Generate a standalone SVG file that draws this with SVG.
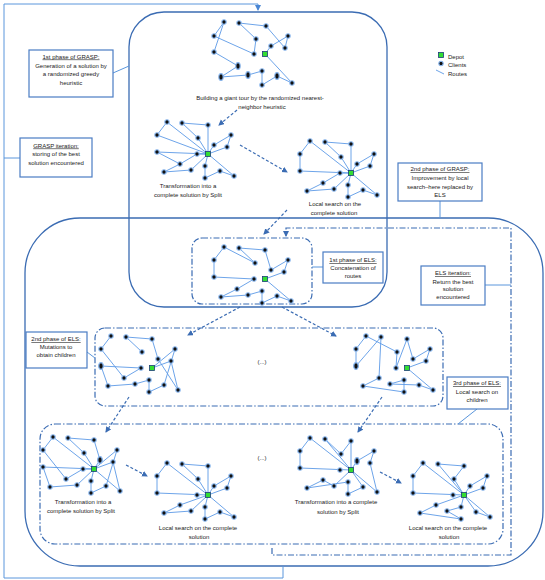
<svg xmlns="http://www.w3.org/2000/svg" xmlns:xlink="http://www.w3.org/1999/xlink" width="545" height="580" viewBox="0 0 545 580">
<style>
text{font-family:"Liberation Sans",Arial,sans-serif;font-size:6px;fill:#222;text-anchor:middle}
.u{text-decoration:underline}
.lg{text-anchor:start}
.big{fill:none;stroke:#3b6cb3;stroke-width:1.3}
.dd{fill:none;stroke:#3b6cb3;stroke-width:1.2;stroke-dasharray:6,2,1.5,2}
.tb{fill:#fff;stroke:#4a7cc4;stroke-width:1.2}
.cn{fill:none;stroke:#5a96dc;stroke-width:1}
.da{fill:none;stroke:#3b6cb3;stroke-width:1.2;stroke-dasharray:3,2}
.e{fill:none;stroke:#5c9ae6;stroke-width:0.9;stroke-linejoin:round}
.cl{fill:#111;stroke:#8ab8f0;stroke-width:1.1}
.dp{fill:#33dd33;stroke:#1c3c78;stroke-width:0.8}
</style>
<defs>
<marker id="ah" markerWidth="7" markerHeight="7" refX="5" refY="3" orient="auto" markerUnits="userSpaceOnUse"><path d="M0,0 L6,3 L0,6 Z" fill="#3b6cb3"/></marker>
<marker id="ah2" markerWidth="7" markerHeight="7" refX="5" refY="3" orient="auto" markerUnits="userSpaceOnUse"><path d="M0,0 L6,3 L0,6 Z" fill="#4a86d4"/></marker>
<g id="layout">
<circle class="cl" cx="-41" cy="-32" r="2.2"/><circle class="cl" cx="-26" cy="-31" r="2.2"/><circle class="cl" cx="0" cy="-29" r="2.2"/>
<circle class="cl" cx="-51" cy="-19" r="2.2"/><circle class="cl" cx="-10" cy="-16" r="2.2"/><circle class="cl" cx="23" cy="-19" r="2.2"/>
<circle class="cl" cx="6" cy="-9" r="2.2"/><circle class="cl" cx="19" cy="-7" r="2.2"/><circle class="cl" cx="-51" cy="-2" r="2.2"/>
<circle class="cl" cx="-11" cy="0" r="2.2"/><circle class="cl" cx="-28" cy="10" r="2.2"/><circle class="cl" cx="-3" cy="12" r="2.2"/>
<circle class="cl" cx="-44" cy="18" r="2.2"/><circle class="cl" cx="-17" cy="16" r="2.2"/><circle class="cl" cx="12" cy="17" r="2.2"/>
<circle class="cl" cx="-3" cy="24" r="2.2"/><circle class="cl" cx="26" cy="22" r="2.2"/>
<rect class="dp" x="-2.5" y="-2.5" width="5" height="5"/>
</g>
</defs>
<rect width="545" height="580" fill="#fff"/>

<g id="grasp-box"><rect class="big" x="129" y="12" width="258" height="295" rx="35"/></g>
<g id="els-box"><rect class="big" x="25" y="218" width="518" height="348" rx="55"/></g>
<g id="els-phase1-box"><rect class="dd" x="192" y="238" width="120" height="66" rx="10"/></g>
<g id="els-phase2-box"><rect class="dd" x="95" y="328" width="348" height="78" rx="10"/><text x="262" y="364">(...)</text></g>
<g id="els-phase3-box"><rect class="dd" x="40" y="424" width="463" height="120" rx="15"/><text x="262" y="460">(...)</text></g>

<g id="connectors">
<path class="cn" d="M283,566 V578 H4 V4 H258 V10" marker-end="url(#ah2)"/>
<path class="cn" d="M4,158 H20"/>
<path class="cn" d="M113,73 L129,66"/>
<path class="cn" d="M440,201 V218"/>
<path class="cn" d="M312,267 H323"/>
<path class="cn" d="M485,285 H511"/>
<path class="cn" d="M87,352 L95,358"/>
<path class="cn" d="M477,409 L458,424"/>
<path class="dd" d="M272,548 V555 H511 V228 H286 V236" marker-end="url(#ah)"/>
<path class="da" d="M237,110 L219,125" marker-end="url(#ah)"/>
<path class="da" d="M240,145 L287,172" marker-end="url(#ah)"/>
<path class="da" d="M287,210 L264,234" marker-end="url(#ah)"/>
<path class="da" d="M240,307 L188,335" marker-end="url(#ah)"/>
<path class="da" d="M282,307 L336,336" marker-end="url(#ah)"/>
<path class="da" d="M129,397 L106,432" marker-end="url(#ah)"/>
<path class="da" d="M382,397 L358,432" marker-end="url(#ah)"/>
<path class="da" d="M126,465 L147,476" marker-end="url(#ah)"/>
<path class="da" d="M380,472 L401,483" marker-end="url(#ah)"/>
</g>

<g id="g1-giant-tour" transform="translate(265,54)">
<path class="e" d="M0 0 L6 -8 L23 -18 L20 -6 L1 -28 L-26 -31 L-9 -15 L-11 0 L-51 -18 L-41 -32 L-51 -2 L-27 12 L-44 23 L-17 21 L-3 17 L-3 31 L12 22 L27 29 Z"/>
<circle class="cl" cx="-41" cy="-32" r="2.2"/><circle class="cl" cx="-26" cy="-31" r="2.2"/><circle class="cl" cx="1" cy="-28" r="2.2"/>
<circle class="cl" cx="-51" cy="-18" r="2.2"/><circle class="cl" cx="-9" cy="-15" r="2.2"/><circle class="cl" cx="23" cy="-18" r="2.2"/>
<circle class="cl" cx="6" cy="-8" r="2.2"/><circle class="cl" cx="20" cy="-6" r="2.2"/><circle class="cl" cx="-51" cy="-2" r="2.2"/>
<circle class="cl" cx="-11" cy="0" r="2.2"/><ellipse class="cl" cx="-27" cy="12" rx="2.2" ry="3.4"/><circle class="cl" cx="-3" cy="17" r="2.2"/>
<ellipse class="cl" cx="-44" cy="23" rx="2.2" ry="3.4"/><ellipse class="cl" cx="-17" cy="21" rx="2.2" ry="3.4"/><ellipse class="cl" cx="12" cy="22" rx="2.2" ry="3.4"/>
<circle class="cl" cx="-3" cy="31" r="2.2"/><circle class="cl" cx="27" cy="29" r="2.2"/>
<rect class="dp" x="-2.5" y="-2.5" width="5" height="5"/>
</g>
<g id="g1-caption"><text x="260" y="100">Building a giant tour by the randomized nearest-</text><text x="262" y="108.5">neighbor heuristic</text></g>

<g id="g2-split" transform="translate(208,154)">
<path class="e" d="M0 0 L-41 -32 L-51 -19 Z M0 0 L0 -29 L-26 -31 L-10 -16 Z M0 0 L-51 -2 L-28 10 L-11 0 Z M0 0 L-17 16 L-44 18 L-28 10 M0 0 L6 -9 L23 -19 L19 -7 Z M0 0 L-3 12 L-3 24 L12 17 L26 22 Z"/>
<use xlink:href="#layout" href="#layout"/>
</g>
<g id="g2-caption"><text x="188" y="188">Transformation into a</text><text x="188" y="196.5">complete solution by Split</text></g>

<g id="g3-local-search" transform="translate(351,173)">
<path class="e" d="M0 0 L-41 -32 L-51 -19 L-51 -2 Z M0 0 L0 -29 L-26 -31 L-10 -16 Z M0 0 L6 -9 L23 -19 L19 -7 Z M0 0 L-11 0 L-28 10 L-44 18 L-17 16 Z M0 0 L-3 12 L-3 24 L12 17 L26 22 Z"/>
<use xlink:href="#layout" href="#layout"/>
</g>
<g id="g3-caption"><text x="335" y="206">Local search on the</text><text x="334" y="214.5">complete solution</text></g>

<g id="g4-concatenation" transform="translate(265,279)">
<path class="e" d="M0 0 L19 -7 L23 -19 L6 -9 L0 -29 L-26 -31 L-10 -16 L-41 -32 L-51 -19 L-51 -2 L-11 0 L-28 10 L-44 18 L-17 16 L-3 12 L-3 24 L12 17 L26 22 Z"/>
<use xlink:href="#layout" href="#layout"/>
</g>

<g id="g5-mutation-a" transform="translate(152,368)">
<path class="e" d="M-10 -16 L-26 -31 L0 -29 L6 -9 L26 22 L19 -7 L0 0 L23 -19 L12 17 L-3 24 L-3 12 L-17 16 L-44 18 L-51 -2 L-11 0 L-28 10 L-51 -19 L-41 -32"/>
<use xlink:href="#layout" href="#layout"/>
<ellipse class="cl" cx="-51" cy="-2" rx="2.2" ry="3.4"/>
</g>

<g id="g6-mutation-b" transform="translate(407,368)">
<path class="e" d="M-41 -32 L-10 -16 L-11 0 L0 -29 L6 -9 L23 -19 L19 -7 L0 0 L26 22 L12 17 L-17 16 L-3 12 L-3 24 L-44 18 L-28 10 L-26 -31 L-51 -2 L-51 -19 Z"/>
<use xlink:href="#layout" href="#layout"/>
<ellipse class="cl" cx="-51" cy="-2" rx="2.2" ry="3.4"/>
</g>

<g id="g7-split-a" transform="translate(94,469)">
<path class="e" d="M0 0 L-10 -16 L-26 -31 L0 -29 L6 -9 Z M0 0 L26 22 L19 -7 Z M0 0 L23 -19 L12 17 L-3 24 L-3 12 Z M0 0 L-17 16 L-44 18 L-51 -2 Z M0 0 L-11 0 L-28 10 L-51 -19 L-41 -32 Z"/>
<use xlink:href="#layout" href="#layout"/>
<ellipse class="cl" cx="6" cy="-9" rx="2.2" ry="3.4"/>
</g>
<g id="g7-caption"><text x="83" y="504">Transformation into a</text><text x="81" y="513">complete solution by Split</text></g>

<g id="g7b-local-search-a" transform="translate(208,495)">
<path class="e" d="M0 0 L-41 -32 L-51 -19 L-51 -2 Z M0 0 L0 -29 L-26 -31 L-10 -16 Z M0 0 L6 -9 L23 -19 L19 -7 Z M0 0 L-28 10 L-44 18 L-17 16 Z M0 0 L-3 12 L-3 24 L12 17 L26 22 Z"/>
<use xlink:href="#layout" href="#layout"/>
</g>
<g id="g7b-caption"><text x="198" y="530">Local search on the complete</text><text x="199" y="539">solution</text></g>

<g id="g8-split-b" transform="translate(351,470)">
<path class="e" d="M0 0 L-41 -32 L-51 -19 L-51 -2 Z M0 0 L-26 -31 L-10 -16 L0 -29 Z M0 0 L6 -9 L23 -19 L19 -7 L26 22 Z M0 0 L-17 16 L-28 10 L-44 18 L-3 12 L-3 24 L12 17 Z"/>
<use xlink:href="#layout" href="#layout"/>
<ellipse class="cl" cx="6" cy="-9" rx="2.2" ry="3.4"/>
</g>
<g id="g8-caption"><text x="336" y="504">Transformation into a complete</text><text x="338" y="513.5">solution by Split</text></g>

<g id="g9-local-search-b" transform="translate(464,495)">
<path class="e" d="M0 0 L-41 -32 L-51 -19 L-51 -2 Z M0 0 L-26 -31 L0 -29 L-10 -16 Z M0 0 L6 -9 L23 -19 L19 -7 Z M0 0 L-28 10 L-44 18 L-3 24 L-17 16 L-3 12 Z M0 0 L26 22 L12 17 Z"/>
<use xlink:href="#layout" href="#layout"/>
</g>
<g id="g9-caption"><text x="448" y="530">Local search on the complete</text><text x="449" y="539">solution</text></g>

<g id="tb-grasp1"><rect class="tb" x="29" y="50" width="84" height="47"/>
<text class="u" x="71" y="58.5">1st phase of GRASP:</text><text x="71" y="67.5">Generation of a solution by</text><text x="71" y="76">a randomized greedy</text><text x="71" y="84.5">heuristic</text></g>
<g id="tb-grasp-iter"><rect class="tb" x="20" y="138" width="72" height="39"/>
<text class="u" x="56" y="147.5">GRASP iteration:</text><text x="56" y="156">storing of the best</text><text x="56" y="164.5">solution encountered</text></g>
<g id="tb-grasp2"><rect class="tb" x="398" y="163" width="84" height="38"/>
<text class="u" x="440" y="171">2nd phase of GRASP:</text><text x="440" y="179.5">Improvement by local</text><text x="440" y="188.5">search–here replaced by</text><text x="440" y="197">ELS</text></g>
<g id="tb-els1"><rect class="tb" x="323" y="252" width="60" height="31"/>
<text class="u" x="353" y="262">1st phase of ELS:</text><text x="353" y="270">Concatenation of</text><text x="353" y="278">routes</text></g>
<g id="tb-els-iter"><rect class="tb" x="421" y="266" width="64" height="39"/>
<text class="u" x="453" y="275">ELS iteration:</text><text x="453" y="283.5">Return the best</text><text x="453" y="291">solution</text><text x="453" y="299">encountered</text></g>
<g id="tb-els2"><rect class="tb" x="26" y="332" width="61" height="36"/>
<text class="u" x="56" y="341">2nd phase of ELS:</text><text x="56" y="348.5">Mutations to</text><text x="56" y="357">obtain children</text></g>
<g id="tb-els3"><rect class="tb" x="447" y="377" width="61" height="32"/>
<text class="u" x="477" y="385">3rd phase of ELS:</text><text x="477" y="394">Local search on</text><text x="477" y="402">children</text></g>

<g id="legend">
<rect class="dp" x="438.5" y="52.5" width="5" height="5"/><text class="lg" x="448" y="58.5">Depot</text>
<circle class="cl" cx="441" cy="63.5" r="2.2"/><text class="lg" x="448" y="67">Clients</text>
<path class="e" d="M436,70 L444,74"/><text class="lg" x="448" y="76">Routes</text>
</g>
</svg>
